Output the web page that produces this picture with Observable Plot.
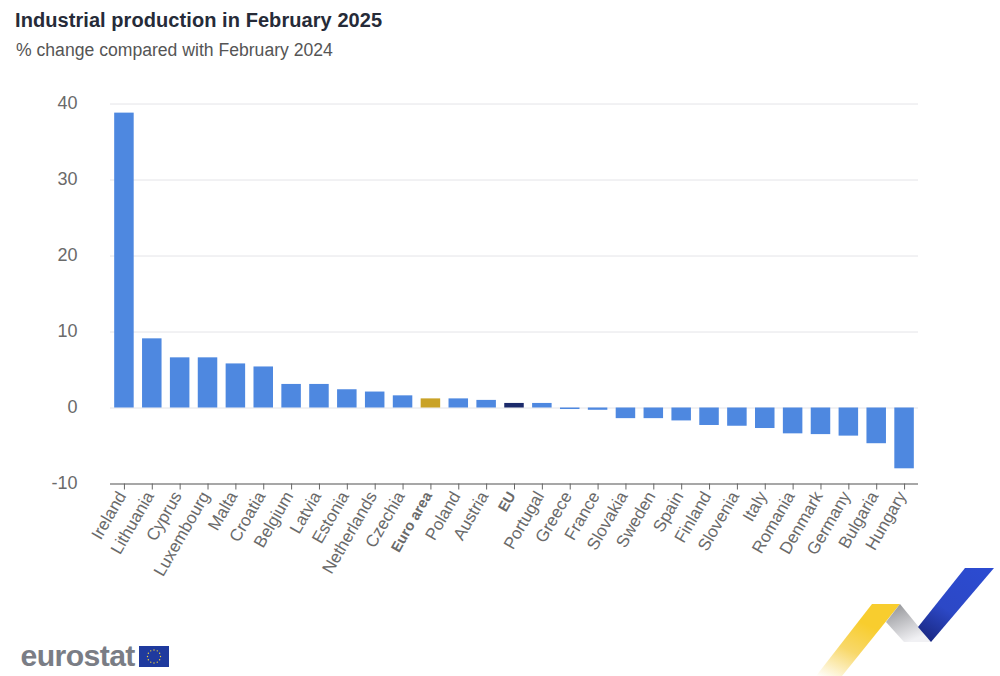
<!DOCTYPE html>
<html>
<head>
<meta charset="utf-8">
<script src="https://cdn.jsdelivr.net/npm/d3@7"></script>
<script src="https://cdn.jsdelivr.net/npm/@observablehq/plot@0.6"></script>
<style>
html,body{margin:0;padding:0;background:#fff;}
body{position:relative;width:1000px;height:676px;overflow:hidden;font-family:"Liberation Sans",Arial,sans-serif;}
#title{position:absolute;left:15px;top:9px;font-size:20px;font-weight:700;color:#262b38;letter-spacing:.07px;}
#subtitle{position:absolute;left:16px;top:40px;font-size:17.6px;color:#555;}
#chart{position:absolute;left:0;top:70px;}
#wordmark{position:absolute;left:20.5px;top:638px;font-size:30.2px;font-weight:700;color:#7a7d85;letter-spacing:-.6px;line-height:36px;}
#logos{position:absolute;left:0;top:0;}
</style>
</head>
<body>
<div id="title">Industrial production in February 2025</div>
<div id="subtitle">% change compared with February 2024</div>
<div id="chart"></div>
<svg id="logos" width="1000" height="676" viewBox="0 0 1000 676">
  <defs>
    <linearGradient id="gy" x1="0" y1="1" x2="0.45" y2="0.2">
      <stop offset="0" stop-color="#fff"/><stop offset=".55" stop-color="#f8d86a"/><stop offset="1" stop-color="#f8cd2e"/>
    </linearGradient>
    <linearGradient id="gg" x1="0" y1="0" x2="0.5" y2="1">
      <stop offset="0" stop-color="#8c8d91"/><stop offset="1" stop-color="#f1f1f4"/>
    </linearGradient>
    <linearGradient id="gb" x1="0.8" y1="0" x2="0.2" y2="1">
      <stop offset="0" stop-color="#2c4bd0"/><stop offset=".6" stop-color="#2c48c6"/><stop offset="1" stop-color="#1b2a86"/>
    </linearGradient>
  </defs>
  <polygon points="872,604 900,604 842,676 816,676" fill="url(#gy)"/>
  <polygon points="900,604 886,622 904,642 931,642" fill="url(#gg)"/>
  <polygon points="965,568 994,568 931,642 918,627" fill="url(#gb)"/>
  <rect x="139" y="646" width="30" height="21" fill="#1f3a9e"/>
  <g id="stars" fill="#f5d33a"></g>
</svg>
<div id="wordmark">eurostat</div>
<script>
const countries = ["Ireland","Lithuania","Cyprus","Luxembourg","Malta","Croatia","Belgium","Latvia","Estonia","Netherlands","Czechia","Euro area","Poland","Austria","EU","Portugal","Greece","France","Slovakia","Sweden","Spain","Finland","Slovenia","Italy","Romania","Denmark","Germany","Bulgaria","Hungary"];
const changes = [38.8,9.1,6.6,6.6,5.8,5.4,3.1,3.1,2.4,2.1,1.6,1.2,1.2,1.0,0.6,0.6,-0.2,-0.3,-1.4,-1.4,-1.7,-2.3,-2.4,-2.7,-3.4,-3.5,-3.7,-4.7,-8.0];
const aggregates = ["Euro area","EU"];
const groups = ["Country","Euro area","EU"];
const groupColors = ["#4e88e0","#c9a227","#1b2a6b"];
const yTicks = [-10,0,10,20,30,40];
const rows = countries.map((country,i)=>({country,change:changes[i],group:aggregates.includes(country)?country:"Country"}));
const xAxis = (ticks,fontWeight,fontSize)=>[
  Plot.axisX(ticks,{anchor:"bottom",tickSize:6,stroke:"#666",strokeWidth:1,text:null,label:null}),
  Plot.axisX(ticks,{anchor:"bottom",tickRotate:-60,tickSize:0,tickPadding:9,dx:-2.5,fill:"#6a6a6a",fontSize,fontWeight,label:null})
];
const plot = Plot.plot({
  width:1000,height:530,
  marginTop:33.5,marginBottom:116.5,marginLeft:110,marginRight:82,
  style:{fontFamily:'"Liberation Sans",Arial,sans-serif',background:"#fff",overflow:"visible"},
  x:{domain:countries,paddingInner:0.3,paddingOuter:0.15,round:false,label:null},
  y:{domain:[-10,40],label:null},
  color:{domain:groups,range:groupColors},
  marks:[
    Plot.ruleY(yTicks.filter(d=>d!==-10),{stroke:"#e4e4e8",strokeWidth:1}),
    Plot.barY(rows,{x:"country",y1:0,y2:"change",fill:"group"}),
    Plot.ruleY([-10],{stroke:"#8a8a8a",strokeWidth:1.5}),
    Plot.axisY(yTicks,{tickSize:0,tickPadding:33,dy:-1,fontSize:18,fill:"#6a6a6a",tickFormat:d=>String(d),label:null}),
    xAxis(countries.filter(c=>!aggregates.includes(c)),"normal",17),
    xAxis(aggregates,"bold",14.5)
  ]
});
document.getElementById("chart").appendChild(plot);
const stars=document.getElementById("stars");
d3.range(12).forEach(i=>{
  const a=i*Math.PI/6;
  const c=document.createElementNS("http://www.w3.org/2000/svg","circle");
  c.setAttribute("cx",154+6.5*Math.cos(a));c.setAttribute("cy",656.5+6.5*Math.sin(a));c.setAttribute("r",.7);
  stars.appendChild(c);
});
</script>
</body>
</html>
